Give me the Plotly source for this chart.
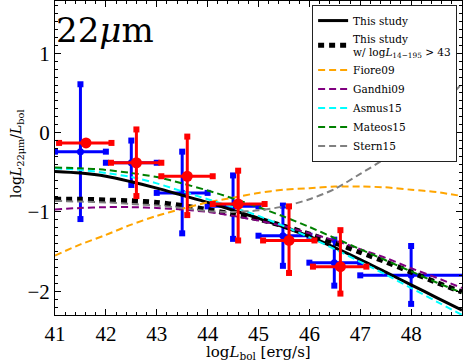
import numpy as np
import plotly.graph_objects as go

# ---------------- data ----------------
x_curve = [41.0, 41.5, 42.0, 42.5, 43.0, 43.5, 44.0, 44.5, 45.0,
           45.5, 46.0, 46.5, 47.0, 47.5, 48.0, 48.5, 49.0]
this_study = [-0.49, -0.51, -0.55, -0.62, -0.70, -0.79, -0.88, -0.98, -1.08,
              -1.19, -1.31, -1.45, -1.60, -1.76, -1.92, -2.08, -2.24]
this_study_hx = [-0.84, -0.84, -0.85, -0.86, -0.88, -0.92, -0.97, -1.03, -1.09,
                 -1.18, -1.28, -1.39, -1.51, -1.63, -1.76, -1.89, -2.01]
fiore09 = [-1.55, -1.41, -1.29, -1.16, -1.05, -0.96, -0.88, -0.82, -0.76,
           -0.72, -0.70, -0.68, -0.68, -0.69, -0.72, -0.75, -0.80]
gandhi09 = [-0.97, -0.95, -0.94, -0.94, -0.95, -0.97, -1.00, -1.05, -1.11,
            -1.18, -1.27, -1.36, -1.47, -1.58, -1.71, -1.83, -1.96]
asmus15 = [-0.45, -0.47, -0.51, -0.56, -0.64, -0.74, -0.84, -0.94, -1.05,
           -1.18, -1.32, -1.47, -1.63, -1.79, -1.96, -2.13, -2.30]
mateos15 = [-0.44, -0.45, -0.47, -0.51, -0.56, -0.64, -0.73, -0.83, -0.94,
            -1.06, -1.19, -1.33, -1.47, -1.61, -1.75, -1.89, -2.02]
stern15 = [-0.86, -0.87, -0.88, -0.90, -0.92, -0.95, -0.99, -1.00, -0.98,
           -0.93, -0.84, -0.71, -0.52, -0.32, -0.05, 0.27, 0.62]

blue_x = [41.5, 42.5, 43.5, 44.5, 45.48, 46.49, 48.0]
blue_y = [-0.24, -0.38, -0.76, -0.93, -1.30, -1.64, -1.80]
blue_x_lo = [41.0, 42.0, 43.0, 44.0, 45.0, 46.0, 47.0]
blue_x_hi = [42.0, 43.0, 44.0, 45.0, 46.0, 47.0, 49.5]
blue_y_lo = [-1.09, -0.66, -1.27, -1.34, -1.68, -1.93, -2.16]
blue_y_hi = [0.61, -0.10, -0.24, -0.54, -0.92, -1.35, -1.43]

red_x = [41.61, 42.60, 43.60, 44.60, 45.60, 46.61]
red_y = [-0.13, -0.38, -0.55, -0.90, -1.36, -1.69]
red_x_lo = [41.08, 42.10, 43.09, 44.10, 45.09, 46.07]
red_x_hi = [42.11, 43.09, 44.10, 45.12, 46.10, 47.12]
red_y_lo = [-0.13, -0.80, -1.04, -1.36, -1.77, -2.03]
red_y_hi = [-0.13, 0.04, -0.05, -0.48, -0.93, -1.23]

x_ticks = [41, 42, 43, 44, 45, 46, 47, 48]
y_ticks = [-2, -1, 0, 1]
y_tick_text = ["−2", "−1", "0", "1"]

FONT = "DejaVu Serif"
TFONT = "Liberation Serif"

fig = go.Figure()


def add_points(x, y, xlo, xhi, ylo, yhi, color, msize):
    x = np.array(x); y = np.array(y)
    xlo = np.array(xlo); xhi = np.array(xhi)
    ylo = np.array(ylo); yhi = np.array(yhi)
    fig.add_trace(go.Scatter(
        x=x, y=y, mode="markers", showlegend=False, hoverinfo="skip",
        marker=dict(color=color, size=msize, symbol="circle"),
        error_x=dict(type="data", symmetric=False, array=xhi - x,
                     arrayminus=x - xlo, color=color, thickness=3, width=0),
        error_y=dict(type="data", symmetric=False, array=yhi - y,
                     arrayminus=y - ylo, color=color, thickness=3, width=0),
    ))
    cx = np.concatenate([xlo, xhi, x, x])
    cy = np.concatenate([y, y, ylo, yhi])
    fig.add_trace(go.Scatter(
        x=cx, y=cy, mode="markers", showlegend=False, hoverinfo="skip",
        marker=dict(color=color, size=6, symbol="square", line=dict(width=0)),
    ))


add_points(blue_x, blue_y, blue_x_lo, blue_x_hi, blue_y_lo, blue_y_hi, "#0000ff", 7)

curves = [
    ("This study", this_study, "black", 3, "solid"),
    ("This study<br>w/ log<i>L</i><sub>14−195</sub> > 43", this_study_hx, "black", 5, "6px,5px"),
    ("Fiore09", fiore09, "orange", 2, "7px,4px"),
    ("Gandhi09", gandhi09, "purple", 2, "7px,4px"),
    ("Asmus15", asmus15, "cyan", 2, "7px,4px"),
    ("Mateos15", mateos15, "green", 2, "7px,4px"),
    ("Stern15", stern15, "gray", 2, "7px,4px"),
]
for i, (name, ys, col, w, dash) in enumerate(curves):
    fig.add_trace(go.Scatter(
        x=x_curve, y=ys, mode="lines", name=name, legendrank=i + 1,
        line=dict(color=col, width=w, dash=dash, shape="spline", smoothing=0.8),
        hoverinfo="skip",
    ))

add_points(red_x, red_y, red_x_lo, red_x_hi, red_y_lo, red_y_hi, "#ff0000", 11)

axis_common = dict(
    showline=True, linecolor="black", linewidth=1, mirror="allticks",
    ticks="inside", ticklen=6, tickwidth=1, tickcolor="black",
    showgrid=False, zeroline=False, automargin=False,
    tickfont=dict(family=TFONT, size=21, color="black"),
)

fig.update_layout(
    width=463, height=361,
    margin=dict(l=55, r=1, t=1, b=46, autoexpand=False),
    paper_bgcolor="white", plot_bgcolor="white",
    font=dict(family=FONT, color="black"),
    xaxis=dict(range=[41, 49], tickvals=x_ticks,
               ticktext=[str(v) for v in x_ticks],
               minor=dict(dtick=0.2, tick0=41, ticklen=3, ticks="inside",
                          tickcolor="black", tickwidth=1),
               **axis_common),
    yaxis=dict(range=[-2.3, 1.66], tickvals=y_ticks, ticktext=y_tick_text,
               minor=dict(dtick=0.1, tick0=0, ticklen=3, ticks="inside",
                          tickcolor="black", tickwidth=1),
               **axis_common),
    legend=dict(x=0.988, y=0.987, xanchor="right", yanchor="top",
                bgcolor="white", bordercolor="#222222", borderwidth=1,
                font=dict(family=FONT, size=10.5, color="black"),
                tracegroupgap=0, itemwidth=30, valign="middle"),
    annotations=[
        dict(text="22<i>μ</i>m", x=0, y=1, xref="paper", yref="paper",
             xanchor="left", yanchor="top", showarrow=False, xshift=-1, yshift=-7,
             font=dict(family=FONT, size=34, color="black")),
        dict(text="log<i>L</i><sub>bol</sub> [erg/s]", x=0.5, y=0, xref="paper",
             yref="paper", xanchor="center", yanchor="top", showarrow=False,
             yshift=-26, font=dict(family=FONT, size=15, color="black")),
        dict(text="log<i>L</i><sub>22μm</sub>/<i>L</i><sub>bol</sub>", x=0, y=0.5,
             xref="paper", yref="paper", xanchor="right", yanchor="middle",
             showarrow=False, textangle=-90, xshift=-27, yshift=4,
             font=dict(family=FONT, size=14, color="black")),
    ],
)

fig.write_html("out.html", config={"displayModeBar": False},
               post_script="document.body.style.margin='0px';document.body.style.overflow='hidden';")
